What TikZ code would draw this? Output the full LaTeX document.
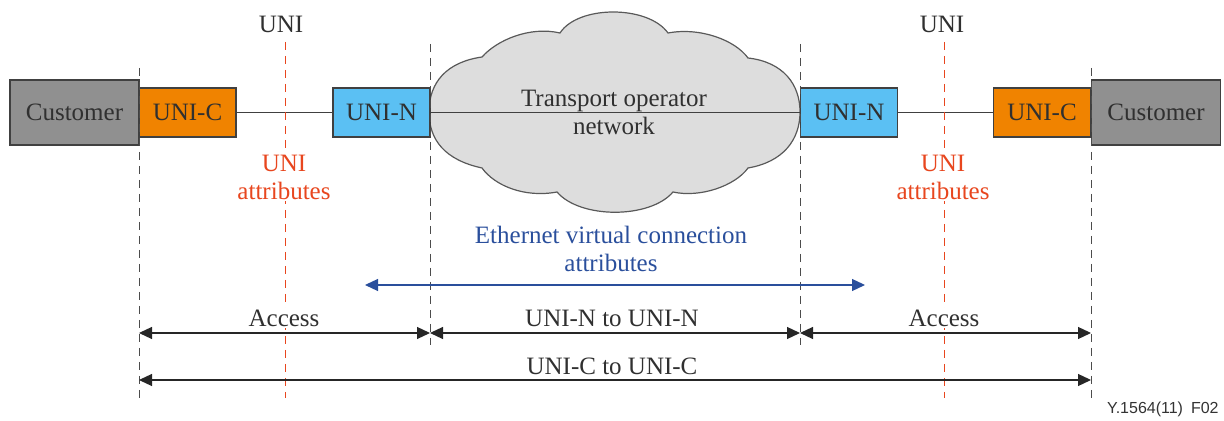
\documentclass[tikz,border=0pt]{standalone}
\usepackage{fontspec}
\setmainfont{Liberation Serif}
\newfontfamily\figsans{Liberation Sans}
\usetikzlibrary{arrows.meta}
\definecolor{custgray}{HTML}{909090}
\definecolor{unicorange}{HTML}{F08300}
\definecolor{uninblue}{HTML}{5BC0F3}
\definecolor{cloudgray}{HTML}{DDDDDD}
\definecolor{unired}{HTML}{E8461E}
\definecolor{evcblue}{HTML}{2A4F9C}
\definecolor{txt}{HTML}{303030}
\begin{document}
\begin{tikzpicture}[x=0.5pt,y=-0.5pt,
  font=\fontsize{12.5}{15}\selectfont, text=txt,
  box/.style={draw=black!75, line width=0.7pt, inner sep=0pt, minimum height=24.5pt},
  custbox/.style={box, fill=custgray, minimum width=64.5pt, minimum height=32.5pt},
  uncbox/.style={box, fill=unicorange, minimum width=48.5pt},
  unnbox/.style={box, fill=uninblue, minimum width=48.5pt},
  cloudline/.style={draw=black!65, line width=0.6pt, fill=cloudgray},
  vdash/.style={draw=black!70, dash pattern=on 4pt off 3pt, line width=0.5pt},
  rdash/.style={draw=unired, dash pattern=on 4pt off 3pt, line width=0.5pt},
  link/.style={draw=black!75, line width=0.6pt},
  dim/.style={draw=black!85, line width=0.6pt, {Triangle[length=6.5pt,width=6pt]}-{Triangle[length=6.5pt,width=6pt]}},
  evc/.style={draw=evcblue, line width=0.6pt, {Triangle[length=6.5pt,width=6pt]}-{Triangle[length=6.5pt,width=6pt]}},
  redtxt/.style={text=unired, align=center},
]
\useasboundingbox (0,0) rectangle (1224,421);

% cloud
\path[cloudline] (482,168)
  .. controls (445,160) and (429,140) .. (429,112)
  .. controls (429,82) and (447,62) .. (482,57)
  .. controls (497,40) and (530,26) .. (560,33)
  .. controls (578,5) and (648,5) .. (668,33)
  .. controls (700,27) and (735,40) .. (748,58)
  .. controls (783,62) and (800,84) .. (800,112)
  .. controls (800,140) and (783,162) .. (748,168)
  .. controls (735,186) and (700,198) .. (673,192)
  .. controls (650,219) and (580,219) .. (557,192)
  .. controls (525,198) and (495,186) .. (482,168) -- cycle;

% boxes
\node[custbox] (custL) at (74.5,112.5) {Customer};
\node[uncbox]  (uncL)  at (187.5,112.5) {UNI-C};
\node[unnbox]  (unnL)  at (381.5,112.5) {UNI-N};
\node[unnbox]  (unnR)  at (849,112.5) {UNI-N};
\node[uncbox]  (uncR)  at (1042,112.5) {UNI-C};
\node[custbox] (custR) at (1156,112.5) {Customer};

% links
\draw[link] (uncL.east) -- (unnL.west);
\draw[link] (unnL.east) -- (unnR.west);
\draw[link] (unnR.east) -- (uncR.west);

\node (cloudtxt) at (614,112) [align=center] {Transport operator\\[-1pt]network};

% vertical dashed lines
\coordinate (v1t) at (139,68);  \coordinate (v1b) at (139,398);
\coordinate (v2t) at (430,44);  \coordinate (v2b) at (430,345);
\coordinate (v3t) at (800,44);  \coordinate (v3b) at (800,345);
\coordinate (v4t) at (1091,68); \coordinate (v4b) at (1091,398);
\draw[vdash] (v1t) -- (v1b);
\draw[vdash] (v2t) -- (v2b);
\draw[vdash] (v3t) -- (v3b);
\draw[vdash] (v4t) -- (v4b);

% red UNI lines
\node (uniL) at (281,24) {UNI};
\node (uniR) at (942,24) {UNI};
\coordinate (r1t) at (285,42); \coordinate (r1b) at (285,398);
\coordinate (r2t) at (944,42); \coordinate (r2b) at (944,398);
\draw[rdash] (r1t) -- (r1b);
\draw[rdash] (r2t) -- (r2b);

\node[redtxt, fill=white, inner sep=1pt] (attrL) at (284,177) {UNI\\[-1pt]attributes};
\node[redtxt, fill=white, inner sep=1pt] (attrR) at (943,177) {UNI\\[-1pt]attributes};

% EVC
\node[text=evcblue, align=center] (evctxt) at (611,249) {Ethernet virtual connection\\[-1pt]attributes};
\coordinate (e1) at (365,285);
\coordinate (e2) at (865,285);
\draw[evc] (e1) -- (e2);

% dimension arrows
\coordinate (a1) at (139,333);
\coordinate (a2) at (430,333);
\coordinate (a3) at (800,333);
\coordinate (a4) at (1091,333);
\draw[dim] (a1) -- (a2);
\draw[dim] (a2) -- (a3);
\draw[dim] (a3) -- (a4);
\node[fill=white, inner sep=1pt] (accL) at (284,318) {Access};
\node (nn) at (612,318) {UNI-N to UNI-N};
\node[fill=white, inner sep=1pt] (accR) at (944,318) {Access};

\coordinate (c1) at (139,380);
\coordinate (c2) at (1091,380);
\draw[dim] (c1) -- (c2);
\node (cc) at (612,366) {UNI-C to UNI-C};

\node[font=\figsans\fontsize{8}{10}\selectfont, text=black!80, anchor=east, inner sep=0pt] (fig) at (1219,409) {Y.1564(11)\enspace F02};
\end{tikzpicture}
\end{document}
